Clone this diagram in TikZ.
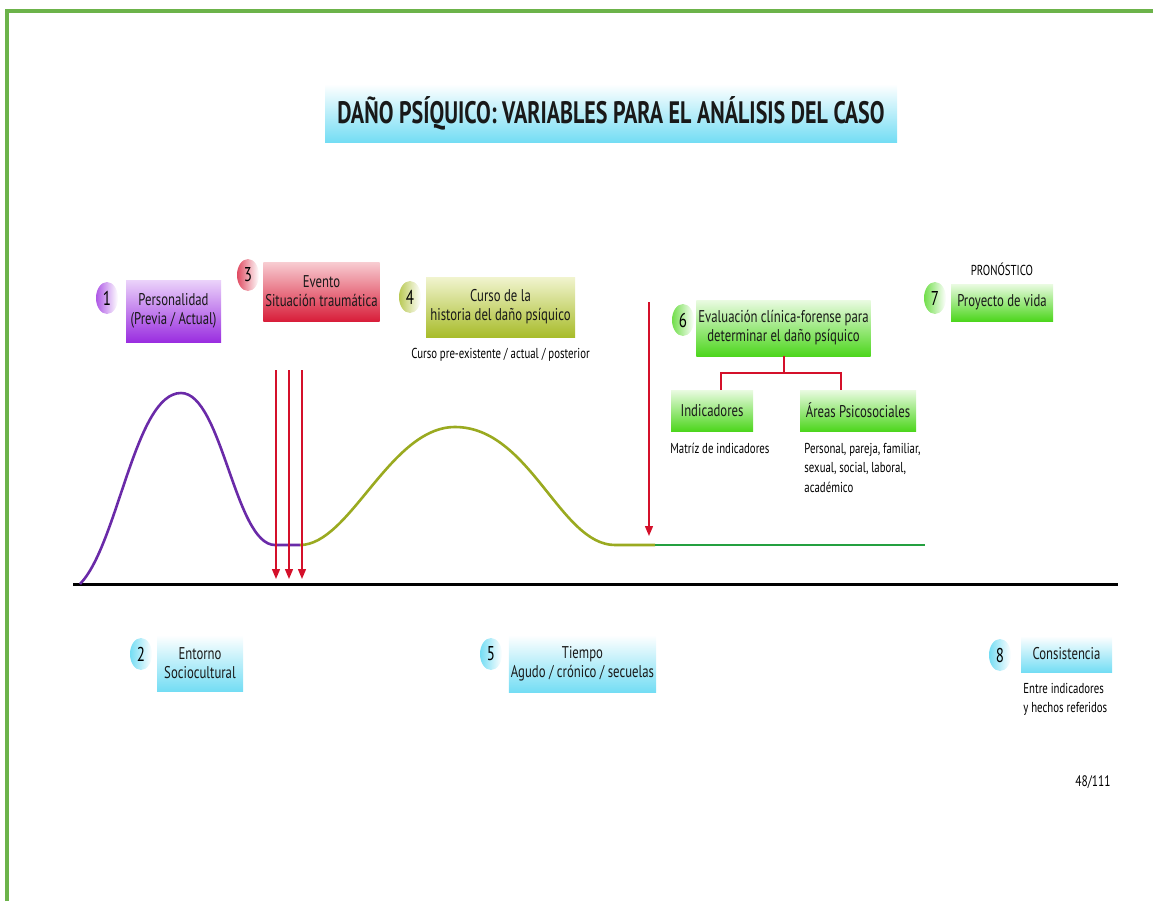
\documentclass[tikz,border=0pt]{standalone}
\usepackage{fontspec}
\setmainfont{PT Sans}[FakeStretch=0.75]
\newfontfamily\titlefont{PT Sans}[FakeStretch=0.71]
\usepackage{xcolor}
\usepackage{tikz}
\usetikzlibrary{positioning, shapes.geometric, arrows.meta}
\definecolor{framegreen}{HTML}{6CB34A}
\definecolor{cyanbot}{HTML}{74DDF4}
\definecolor{purplebot}{HTML}{9A2EE0}
\definecolor{purpletop}{HTML}{EBD3FA}
\definecolor{redbot}{HTML}{D81E3A}
\definecolor{redtop}{HTML}{F8CDD2}
\definecolor{olivebot}{HTML}{A8BC2A}
\definecolor{olivetop}{HTML}{F1F4CF}
\definecolor{greenbot}{HTML}{4DD61D}
\definecolor{greentop}{HTML}{EAFBE2}
\definecolor{curvepurple}{HTML}{6A2AA8}
\definecolor{curveolive}{HTML}{9AAA20}
\definecolor{curvegreen}{HTML}{24A040}
\definecolor{hitred}{HTML}{D4102A}

\begin{document}
\begin{tikzpicture}[x=0.5pt, y=-0.5pt, font=\fontsize{8.5}{9.5}\selectfont,
 varbox/.style={inner sep=1pt, align=center, text=black!90},
 ball/.style={ellipse, minimum width=11pt, minimum height=16pt, inner sep=0pt,
   left color=#1, right color=white, font=\fontsize{10}{10}\selectfont},
 note/.style={font=\fontsize{7.2}{9.6}\selectfont, align=left, inner sep=0pt},
 hit/.style={draw=hitred, line width=0.7pt, -{Triangle[width=4pt,length=5pt]}},
 tree/.style={draw=hitred, line width=1pt}]
\useasboundingbox (0,0) rectangle (1153,901);
\draw[framegreen, line width=1.6pt] (7,901) -- (7,11) -- (1153,11);

% title
\node[varbox, minimum width=286pt, minimum height=29pt, top color=white, bottom color=cyanbot,
  font=\titlefont\bfseries\fontsize{15.5}{17}\selectfont] (title) at (611,113)
  {DAÑO PSÍQUICO: VARIABLES PARA EL ANÁLISIS DEL CASO};

% upper row
\node[varbox, minimum width=47.5pt, minimum height=31pt, top color=purpletop, bottom color=purplebot]
  (personalidad) at (173.5,311) {Personalidad\\(Previa / Actual)};
\node[varbox, minimum width=57.5pt, minimum height=29.5pt, top color=redtop, bottom color=redbot]
  (evento) at (321.5,291.5) {Evento\\Situación traumática};
\node[varbox, minimum width=74.5pt, minimum height=30pt, top color=olivetop, bottom color=olivebot]
  (curso) at (500.5,307) {Curso de la\\historia del daño psíquico};
\node[varbox, minimum width=83.5pt, minimum height=28pt, top color=greentop, bottom color=greenbot]
  (evaluacion) at (783.5,328) {Evaluación clínica-forense para\\determinar el daño psíquico};
\node[varbox, minimum width=51pt, minimum height=18.5pt, top color=greentop, bottom color=greenbot]
  (proyecto) at (1002,302.5) {Proyecto de vida};
\node[varbox, minimum width=41pt, minimum height=20.5pt, top color=greentop, bottom color=greenbot]
  (indicadores) at (712,410.5) {Indicadores};
\node[varbox, minimum width=58pt, minimum height=20.5pt, top color=greentop, bottom color=greenbot]
  (areas) at (858,410.5) {Áreas Psicosociales};

% lower row
\node[varbox, minimum width=43pt, minimum height=28pt, top color=white, bottom color=cyanbot]
  (entorno) at (200,663) {Entorno\\Sociocultural};
\node[varbox, minimum width=72.5pt, minimum height=28.5pt, top color=white, bottom color=cyanbot]
  (tiempo) at (582.5,663.5) {Tiempo\\Agudo / crónico / secuelas};
\node[varbox, minimum width=45.5pt, minimum height=18pt, top color=white, bottom color=cyanbot]
  (consistencia) at (1066.5,654) {Consistencia};

% numbers
\node[ball=purplebot!80] (b1) at (107,298) {1};
\node[ball=cyanbot] (b2) at (141,654) {2};
\node[ball=redbot!80] (b3) at (248,275) {3};
\node[ball=olivebot!80] (b4) at (410,297) {4};
\node[ball=cyanbot] (b5) at (491,654) {5};
\node[ball=greenbot!80] (b6) at (683,320) {6};
\node[ball=greenbot!80] (b7) at (935,298) {7};
\node[ball=cyanbot] (b8) at (1000,655) {8};

% notes
\node[note, above=4pt of proyecto] (pronostico) {PRONÓSTICO};
\node[note, below=5pt of curso] (cursonote) {Curso pre-existente / actual / posterior};
\node[note, anchor=north west] (matriz) at (670,443) {Matríz de indicadores};
\node[note, anchor=north west] (areasnote) at (804,443) {Personal, pareja, familiar,\\sexual, social, laboral,\\académico};
\node[note, anchor=north west] (entre) at (1023,683) {Entre indicadores\\y hechos referidos};
\node[note, font=\fontsize{7.6}{8}\selectfont] (pagina) at (1093,782) {48/111};

% tree under 6
\coordinate (fl) at (721,373);
\coordinate (fr) at (841,373);
\draw[tree] (evaluacion.south) -- (evaluacion.south |- fl);
\draw[tree] (fl |- indicadores.north) -- (fl) -- (fr) -- (fr |- areas.north);

% curve and axis
\draw[line width=1.5pt] (73,584) -- (1118,584);
\draw[curvepurple, line width=1.3pt] (80,584) .. controls (118,545) and (135,393) .. (181,393)
  .. controls (222,393) and (235,545) .. (275,545) -- (300,545);
\draw[curveolive, line width=1.3pt] (300,545) .. controls (350,545) and (390,427) .. (455,427)
  .. controls (530,427) and (560,545) .. (615,545) -- (655,545);
\draw[curvegreen, line width=1.3pt] (655,545) -- (925,545);

% events
\foreach \xa in {276,289,302}
  {\draw[hit] (\xa,370) -- (\xa,579);}
\draw[hit] (649,302) -- (649,536);

\end{tikzpicture}
\end{document}
